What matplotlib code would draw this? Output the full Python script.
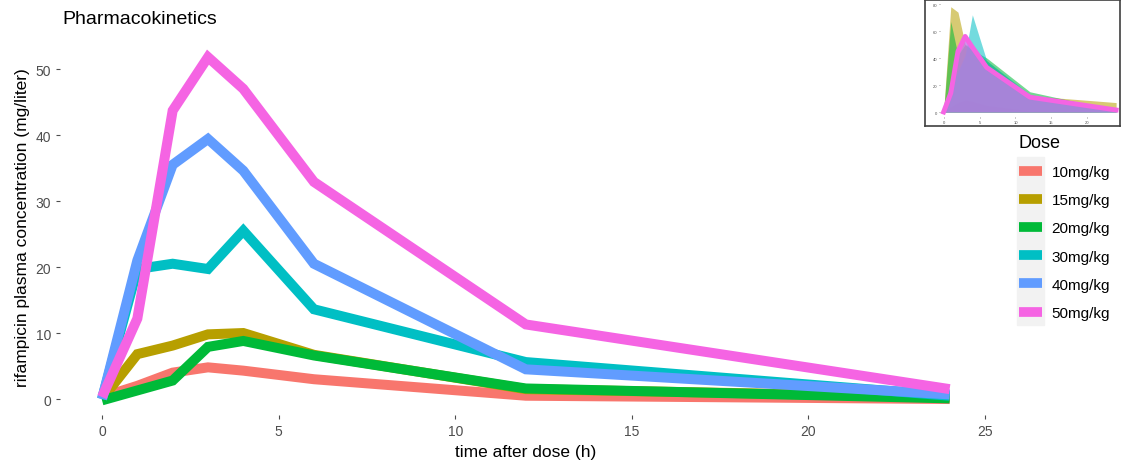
import matplotlib
matplotlib.use("Agg")
import matplotlib.pyplot as plt
from matplotlib.lines import Line2D
from matplotlib.patches import Rectangle

plt.rcParams['font.family'] = ['Liberation Sans', 'DejaVu Sans']

# ---- data ----
times = [0, 1, 2, 3, 4, 6, 12, 24]
doses = ["10mg/kg", "15mg/kg", "20mg/kg", "30mg/kg", "40mg/kg", "50mg/kg"]
conc_10 = [0.3, 2.0, 4.0, 4.8, 4.3, 3.0, 0.5, 0.0]
conc_15 = [0.0, 6.8, 8.1, 9.8, 10.0, 6.7, 1.5, 0.3]
conc_20 = [-0.2, 1.3, 2.8, 7.9, 8.8, 6.6, 1.6, 0.1]
conc_30 = [0.0, 19.7, 20.5, 19.7, 25.5, 13.6, 5.6, 0.5]
conc_40 = [0.0, 21.0, 35.5, 39.4, 34.6, 20.5, 4.5, 0.7]
conc_50 = [0.3, 12.2, 43.7, 51.8, 47.0, 32.9, 11.3, 1.5]

# inset (area chart) values
inset_10 = [0.0, 4.0, 7.0, 9.0, 8.0, 5.0, 1.0, 0.0]
inset_15 = [0.0, 78.0, 74.0, 50.0, 46.0, 38.0, 12.0, 7.0]
inset_20 = [0.0, 67.0, 42.0, 50.0, 46.0, 40.0, 15.0, 1.0]
inset_30 = [0.0, 18.0, 30.0, 42.0, 72.0, 38.0, 13.0, 2.0]
inset_40 = [0.0, 24.0, 45.0, 55.0, 50.0, 35.0, 12.0, 3.0]
inset_50 = [0.0, 14.0, 45.0, 56.0, 48.0, 33.0, 11.0, 1.5]

colors = ["#F8766D", "#B79F00", "#00BA38", "#00BFC4", "#619CFF", "#F564E3"]
series = [conc_10, conc_15, conc_20, conc_30, conc_40, conc_50]
inset_series = [inset_10, inset_15, inset_20, inset_30, inset_40, inset_50]

W, H = 1121, 464
fig = plt.figure(figsize=(W / 100, H / 100), dpi=100)


def px_axes(l, t, r, b):
    return fig.add_axes([l / W, 1 - b / H, (r - l) / W, (b - t) / H])


# ---- main panel ----
ax = px_axes(60, 40, 992, 416)
for vals, c in zip(series, colors):
    ax.plot(times, vals, color=c, lw=7.2, solid_joinstyle='miter', solid_capstyle='butt')
ax.set_xlim(-1.19, 25.2)
ax.set_ylim(-2.42, 54.55)
ax.set_xticks([0, 5, 10, 15, 20, 25])
ax.set_yticks([0, 10, 20, 30, 40, 50])
for s in ax.spines.values():
    s.set_visible(False)
ax.tick_params(colors="#4D4D4D", labelcolor="#4D4D4D", labelsize=10, length=3, width=0.8)
ax.set_xlabel("time after dose (h)", fontsize=12.5, labelpad=4)
ax.set_ylabel("rifampicin plasma concentration (mg/liter)", fontsize=12.5, labelpad=4)
fig.text(62 / W, 1 - 20 / H, "Pharmacokinetics", fontsize=14, va="center", ha="left")

# ---- legend ----
fig.patches.append(Rectangle((1017 / W, 1 - 326 / H), 27 / W, 168 / H,
                             transform=fig.transFigure, color="#F2F2F2", zorder=0))
handles = [Line2D([], [], color=c, lw=7, solid_capstyle='butt') for c in colors]
leg = fig.legend(handles, doses, loc="upper left", bbox_to_anchor=(1005 / W, 1 - 121 / H),
                 frameon=False, title="Dose", fontsize=11, title_fontsize=13,
                 handlelength=1.5, handletextpad=0.65, labelspacing=0.93, alignment="left")

# ---- inset ----
frame = px_axes(925, 1, 1120, 127)
frame.set_xticks([])
frame.set_yticks([])
for s in frame.spines.values():
    s.set_color("#404040")
    s.set_linewidth(1.2)

ins = px_axes(940, 3, 1119, 118)
for vals, c in zip(inset_series, colors):
    ins.fill_between(times, 0, vals, color=c, alpha=0.55, lw=0)
ins.plot(times, inset_50, color=colors[5], lw=3.5)
ins.set_xlim(-0.5, 24.4)
ins.set_ylim(-3.7, 81.5)
ins.set_xticks([0, 5, 10, 15, 20])
ins.set_yticks([0, 20, 40, 60, 80])
for s in ins.spines.values():
    s.set_visible(False)
ins.tick_params(colors="#4D4D4D", labelsize=3, length=1, width=0.4, pad=1)

fig.savefig("out.png", dpi=100)
